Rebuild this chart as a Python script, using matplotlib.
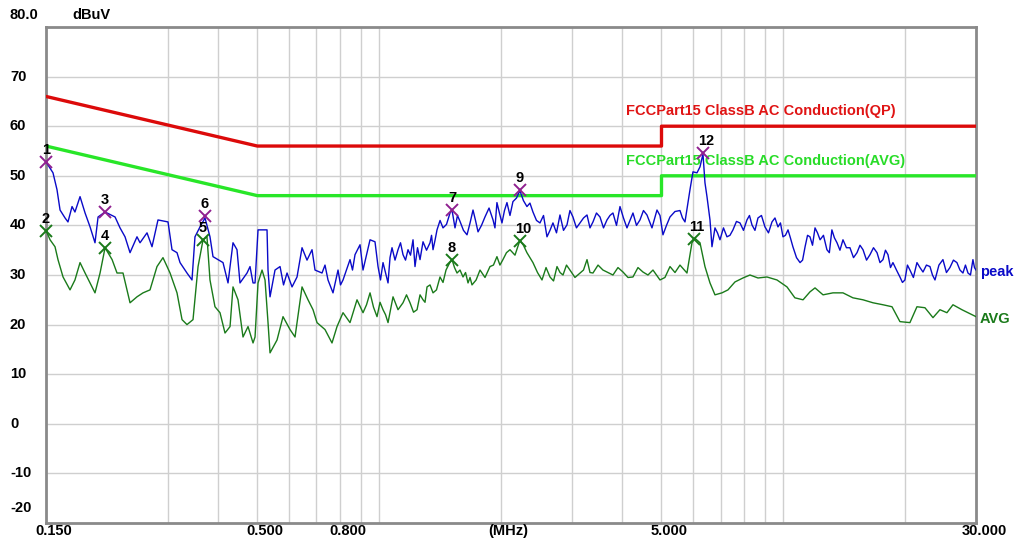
import matplotlib
matplotlib.use("Agg")
import matplotlib.pyplot as plt
import matplotlib.transforms as mtransforms

plt.rcParams["font.family"] = ["Liberation Sans", "DejaVu Sans"]
plt.rcParams["font.weight"] = "bold"

# peak trace (MHz, dBuV)
peak_freq = [
    0.150, 0.1561, 0.1597, 0.1625, 0.1672, 0.1700, 0.1740, 0.1769, 0.1821, 0.1874,
    0.1928, 0.1983, 0.2018, 0.2100, 0.2223, 0.2287, 0.2353, 0.2421, 0.2519, 0.2563,
    0.2667, 0.2744, 0.2839, 0.3006, 0.3075, 0.3164, 0.3219, 0.3349, 0.3446, 0.3505,
    0.3607, 0.3711, 0.3818, 0.3884, 0.3996, 0.4112, 0.4231, 0.4353, 0.4453, 0.4530,
    0.4715, 0.4796, 0.4879, 0.4935, 0.5020, 0.5284, 0.5314, 0.5375, 0.5530, 0.5691,
    0.5805, 0.5922, 0.6093, 0.6269, 0.6450, 0.6636, 0.6828, 0.6945, 0.7228, 0.7352,
    0.7479, 0.7695, 0.7918, 0.8032, 0.8147, 0.8478, 0.8599, 0.8723, 0.8976, 0.9130,
    0.9314, 0.9502, 0.9775, 0.9945, 1.0087, 1.0232, 1.0528, 1.0648, 1.0770, 1.0956,
    1.1145, 1.1304, 1.1466, 1.1631, 1.1798, 1.1967, 1.2139, 1.2277, 1.2454, 1.2633,
    1.2851, 1.311, 1.3374, 1.349, 1.3604, 1.376, 1.3917, 1.416, 1.4401, 1.469,
    1.4987, 1.5159, 1.5419, 1.564, 1.5866, 1.618, 1.6511, 1.680, 1.7085, 1.733,
    1.758, 1.793, 1.829, 1.872, 1.915, 1.936, 1.958, 1.986, 2.015, 2.044,
    2.073, 2.109, 2.145, 2.188, 2.232, 2.277, 2.323, 2.363, 2.404, 2.453,
    2.502, 2.553, 2.604, 2.649, 2.694, 2.749, 2.804, 2.861, 2.918, 2.968,
    3.019, 3.080, 3.143, 3.207, 3.271, 3.327, 3.384, 3.452, 3.522, 3.593,
    3.665, 3.728, 3.792, 3.869, 3.947, 4.026, 4.107, 4.178, 4.250, 4.336,
    4.423, 4.512, 4.603, 4.736, 4.873, 4.957, 5.042, 5.144, 5.248, 5.399,
    5.555, 5.635, 5.716, 5.881, 5.982, 6.120, 6.226, 6.333, 6.405, 6.479,
    6.591, 6.666, 6.781, 6.878, 6.977, 7.117, 7.260, 7.385, 7.513, 7.664,
    7.819, 7.976, 8.136, 8.253, 8.372, 8.516, 8.663, 8.837, 9.015, 9.197,
    9.383, 9.544, 9.708, 9.847, 9.989, 10.13, 10.28, 10.42, 10.57, 10.79,
    11.01, 11.17, 11.33, 11.49, 11.65, 11.82, 11.99, 12.16, 12.34, 12.58,
    12.83, 13.01, 13.20, 13.39, 13.59, 13.82, 14.06, 14.34, 14.63, 14.93,
    15.23, 15.49, 15.76, 16.08, 16.40, 16.73, 17.07, 17.36, 17.66, 17.91,
    18.17, 18.43, 18.69, 19.07, 19.45, 19.73, 20.01, 20.30, 20.59, 21.00,
    21.43, 21.80, 22.18, 22.62, 23.08, 23.41, 23.75, 24.29, 24.85, 25.35,
    25.86, 26.38, 26.91, 27.38, 27.85, 28.25, 28.66, 29.07, 29.48, 29.74,
    30.0,
]
peak_dbuv = [
    52.8, 50.6, 47.2, 43.1, 41.5, 40.7, 43.8, 42.7, 45.8, 42.5,
    39.7, 36.5, 41.7, 42.7, 41.7, 39.5, 37.7, 34.5, 37.7, 36.5,
    38.5, 35.7, 41.1, 40.7, 35.1, 34.5, 32.5, 30.4, 29.0, 37.7,
    39.7, 41.5, 37.7, 33.7, 33.1, 32.5, 28.4, 36.5, 35.1, 28.4,
    30.4, 31.7, 28.4, 28.4, 39.1, 39.1, 31.0, 25.6, 31.0, 31.7,
    28.0, 30.4, 27.6, 29.6, 35.5, 33.0, 35.1, 31.0, 30.4, 32.0,
    29.0, 26.4, 31.0, 28.0, 29.0, 33.1, 31.0, 34.1, 36.1, 31.0,
    34.0, 37.1, 36.7, 31.7, 29.0, 32.5, 28.4, 33.5, 35.5, 33.0,
    35.1, 36.5, 34.1, 33.0, 35.1, 34.0, 37.1, 31.7, 35.5, 33.1,
    36.7, 35.0, 36.5, 38.0, 35.1, 37.0, 39.1, 41.0, 39.5, 40.2,
    42.5, 43.1, 39.5, 42.0, 40.8, 39.0, 38.1, 40.5, 43.1, 41.0,
    38.7, 40.0, 41.7, 43.5, 41.1, 39.5, 44.6, 42.5, 40.5, 43.0,
    44.6, 42.0, 44.8, 45.5, 47.0, 45.0, 43.8, 44.5, 42.7, 41.0,
    40.5, 42.0, 37.7, 39.0, 40.5, 38.5, 42.1, 39.0, 40.1, 43.0,
    41.7, 39.5, 40.5, 41.5, 42.1, 39.5, 40.7, 42.5, 41.7, 39.5,
    41.1, 42.0, 42.5, 40.0, 43.8, 41.5, 39.5, 41.0, 42.5, 40.0,
    41.1, 43.0, 42.1, 39.5, 43.1, 42.0, 38.1, 40.0, 41.7, 42.8,
    43.0, 41.5, 40.7, 47.2, 50.8, 50.6, 51.8, 54.4, 48.6, 45.8,
    41.1, 35.7, 39.5, 38.5, 37.1, 39.5, 37.7, 38.0, 39.1, 40.8,
    40.5, 39.0, 41.1, 42.0, 40.1, 39.0, 41.5, 42.0, 39.7, 38.5,
    40.7, 41.5, 39.7, 40.5, 37.7, 38.0, 39.1, 37.5, 35.7, 33.5,
    32.5, 33.0, 35.7, 38.0, 37.7, 36.0, 39.5, 38.5, 37.1, 38.0,
    35.1, 34.5, 39.1, 37.5, 36.5, 35.0, 37.1, 35.5, 35.5, 33.5,
    34.5, 36.0, 35.1, 33.0, 34.1, 35.5, 34.5, 32.5, 33.1, 35.0,
    34.1, 31.5, 32.5, 31.0, 29.6, 28.5, 29.0, 32.0, 31.0, 29.5,
    32.5, 31.5, 30.6, 32.0, 31.7, 30.0, 29.0, 32.0, 33.1, 30.5,
    31.5, 33.0, 32.5, 31.0, 30.4, 32.0, 30.4, 30.0, 33.1, 31.5,
    31.0,
]

# average trace (MHz, dBuV)
avg_freq = [
    0.150, 0.1535, 0.1579, 0.1606, 0.1653, 0.1720, 0.1769, 0.1821, 0.1874, 0.1928,
    0.1983, 0.2041, 0.2100, 0.2186, 0.2248, 0.2326, 0.2421, 0.2519, 0.2607, 0.2713,
    0.2823, 0.2921, 0.3041, 0.3164, 0.3256, 0.3349, 0.3466, 0.3567, 0.3670, 0.3753,
    0.3818, 0.3928, 0.4042, 0.4159, 0.4280, 0.4353, 0.4479, 0.4608, 0.4742, 0.4879,
    0.4935, 0.5020, 0.5136, 0.5224, 0.5314, 0.5375, 0.5594, 0.5788, 0.6024, 0.6198,
    0.6450, 0.6674, 0.6867, 0.7025, 0.7352, 0.7651, 0.7873, 0.8147, 0.8478, 0.8823,
    0.9130, 0.9314, 0.9502, 0.9693, 0.9888, 1.0059, 1.0232, 1.0379, 1.0528, 1.0679,
    1.0832, 1.1145, 1.1466, 1.1697, 1.1933, 1.2174, 1.2419, 1.2633, 1.2851, 1.2998,
    1.3147, 1.3374, 1.3604, 1.3875, 1.4157, 1.4401, 1.4649, 1.4987, 1.5159, 1.5376,
    1.5597, 1.5866, 1.6139, 1.6373, 1.6606, 1.6797, 1.6988, 1.7390, 1.778, 1.8294,
    1.882, 1.9195, 1.958, 1.9918, 2.026, 2.0672, 2.109, 2.1700, 2.232, 2.277,
    2.323, 2.3630, 2.404, 2.4670, 2.531, 2.5900, 2.649, 2.7030, 2.757, 2.8050,
    2.853, 2.9100, 2.968, 3.0540, 3.143, 3.2060, 3.271, 3.3270, 3.384, 3.4830,
    3.582, 3.6850, 3.792, 3.9020, 4.015, 4.1310, 4.250, 4.3730, 4.499, 4.6290,
    4.763, 4.8590, 4.957, 5.0990, 5.248, 5.4000, 5.555, 5.781, 5.948, 6.050,
    6.226, 6.405, 6.591, 6.781, 7.056, 7.302, 7.599, 7.953, 8.277, 8.663,
    9.119, 9.653, 10.22, 10.69, 11.20, 11.65, 11.99, 12.55, 13.28, 14.06,
    14.88, 15.76, 16.68, 17.66, 18.59, 19.45, 20.59, 21.43, 22.43, 23.48,
    24.43, 25.42, 26.31, 27.69, 28.66, 30.0,
]
avg_dbuv = [
    39.0, 37.1, 35.7, 33.1, 29.6, 27.0, 29.0, 32.5, 30.4, 28.4,
    26.4, 30.4, 35.5, 33.1, 30.4, 30.4, 24.4, 25.6, 26.4, 27.0,
    31.7, 33.5, 30.4, 26.4, 21.0, 20.0, 21.0, 31.7, 37.1, 37.7,
    29.0, 23.6, 22.4, 18.3, 19.6, 27.6, 25.0, 17.5, 19.6, 16.3,
    17.5, 28.4, 31.0, 29.0, 20.4, 14.3, 16.9, 21.6, 19.0, 17.5,
    27.6, 25.0, 23.0, 20.4, 19.0, 16.3, 19.6, 22.4, 20.4, 25.0,
    22.4, 24.0, 26.4, 23.5, 21.6, 24.5, 23.0, 22.0, 20.4, 23.0,
    25.6, 23.0, 24.4, 26.0, 24.4, 22.5, 23.0, 26.0, 25.0, 24.5,
    27.6, 28.0, 26.4, 27.0, 29.6, 28.5, 31.0, 32.6, 33.1, 31.5,
    30.4, 31.0, 29.6, 30.5, 28.4, 29.5, 28.0, 29.0, 31.0, 29.5,
    31.7, 32.0, 33.7, 32.0, 33.1, 34.5, 35.1, 34.0, 37.0, 36.0,
    34.5, 33.5, 32.5, 30.5, 29.0, 31.5, 29.6, 28.8, 31.7, 30.5,
    30.0, 32.0, 31.0, 29.5, 30.4, 31.0, 33.1, 30.5, 30.4, 32.0,
    31.0, 30.5, 30.0, 31.5, 30.6, 29.5, 29.6, 31.5, 30.6, 30.0,
    31.0, 30.0, 29.0, 29.5, 31.7, 30.5, 32.0, 30.4, 36.5, 37.4,
    36.5, 31.7, 28.4, 26.0, 26.4, 27.0, 28.6, 29.4, 30.0, 29.4,
    29.6, 29.0, 27.6, 25.4, 25.0, 26.6, 27.4, 26.0, 26.4, 26.4,
    25.4, 25.0, 24.4, 24.0, 23.6, 20.6, 20.4, 23.6, 23.4, 21.4,
    23.0, 22.4, 24.0, 23.0, 22.4, 21.6,
]

# limit lines
qp_limit_freq = [0.15, 0.5, 5.0, 5.0, 30.0]
qp_limit_dbuv = [66, 56, 56, 60, 60]
avg_limit_freq = [0.15, 0.5, 5.0, 5.0, 30.0]
avg_limit_dbuv = [56, 46, 46, 50, 50]

# marker readings
peak_mark_no = ["1", "3", "6", "7", "9", "12"]
peak_mark_freq = [0.150, 0.210, 0.371, 1.516, 2.232, 6.333]
peak_mark_dbuv = [52.8, 42.7, 41.9, 43.1, 47.2, 54.6]
avg_mark_no = ["2", "4", "5", "8", "10", "11"]
avg_mark_freq = [0.150, 0.210, 0.367, 1.516, 2.232, 6.016]
avg_mark_dbuv = [38.9, 35.5, 37.1, 33.1, 36.9, 37.3]

grid_freq = [0.3, 0.4, 0.5, 0.6, 0.7, 0.8, 0.9, 1, 2, 3, 4, 5, 6, 7, 8, 9, 10, 20]
grid_level = [-10, 0, 10, 20, 30, 40, 50, 60, 70]
x_labels = ["0.150", "0.500", "0.800", "(MHz)", "5.000", "30.000"]
x_label_freq = [0.15, 0.5, 0.8, 2.0, 5.0, 30.0]
y_labels = ["80.0", "70", "60", "50", "40", "30", "20", "10", "0", "-10", "-20"]
y_label_pos = [82.4, 70, 60, 50, 40, 30, 20, 10, 0, -10, -17]

W, H = 1016, 543
fig = plt.figure(figsize=(W / 100, H / 100), dpi=100)
ax = fig.add_axes([46 / W, 1 - 523 / H, 930 / W, 496 / H])
ax.set_xscale("log")
ax.set_xlim(0.15, 30)
ax.set_ylim(-20, 80)
ax.set_xticks([])
ax.set_yticks([])
ax.minorticks_off()
for s in ax.spines.values():
    s.set_color("#8a8a8a")
    s.set_linewidth(2)

for f in grid_freq:
    ax.axvline(f, color="#cfcfcf", lw=1, zorder=0)
for lv in grid_level:
    ax.axhline(lv, color="#cfcfcf", lw=1, zorder=0)

ax.plot(qp_limit_freq, qp_limit_dbuv, color="#dc0a0a", lw=2.4, zorder=3)
ax.plot(avg_limit_freq, avg_limit_dbuv, color="#28e628", lw=2.4, zorder=3)
ax.plot(avg_freq, avg_dbuv, color="#1a7a1a", lw=1, zorder=4)
ax.plot(peak_freq, peak_dbuv, color="#0a0ac8", lw=1, zorder=5)

ax.plot(peak_mark_freq, peak_mark_dbuv, ls="none", marker="x", ms=9, mew=1.4,
        color="#902090", zorder=6, clip_on=False)
ax.plot(avg_mark_freq, avg_mark_dbuv, ls="none", marker="x", ms=9, mew=1.4,
        color="#1a7a1a", zorder=6, clip_on=False)
for no, f, v in list(zip(peak_mark_no, peak_mark_freq, peak_mark_dbuv)) + \
        list(zip(avg_mark_no, avg_mark_freq, avg_mark_dbuv)):
    dx = 3 if len(no) > 1 else 0
    ax.annotate(no, (f, v), xytext=(dx, 5), textcoords="offset pixels",
                ha="center", va="bottom", fontsize=10.5, color="black",
                fontweight="bold", zorder=7, annotation_clip=False)

ax.text(4.08, 61.6, "FCCPart15 ClassB AC Conduction(QP)", color="#e01414",
        fontsize=10.5, fontweight="bold", ha="left", va="bottom")
ax.text(4.08, 51.6, "FCCPart15 ClassB AC Conduction(AVG)", color="#28dc28",
        fontsize=10.5, fontweight="bold", ha="left", va="bottom")

side_tr = mtransforms.blended_transform_factory(fig.transFigure, ax.transData)
ax.text(980 / W, 30.6, "peak", transform=side_tr, color="#0a0ac8",
        fontsize=10.5, fontweight="bold", ha="left", va="center")
ax.text(980 / W, 21.2, "AVG", transform=side_tr, color="#1a7a1a",
        fontsize=10.5, fontweight="bold", ha="left", va="center")

for lab, pos in zip(y_labels, y_label_pos):
    ax.text(10 / W, pos, lab, transform=side_tr, fontsize=10.5,
            fontweight="bold", ha="left", va="center", color="black")
ax.text(72 / W, 82.4, "dBuV", transform=side_tr, fontsize=10.5,
        fontweight="bold", ha="left", va="center", color="black")

shift = mtransforms.ScaledTranslation(8 / 100, -8 / 100, fig.dpi_scale_trans)
for lab, f in zip(x_labels, x_label_freq):
    ax.text(f, 0, lab, transform=ax.get_xaxis_transform() + shift,
            fontsize=10.5, fontweight="bold", ha="center", va="center")

fig.savefig("out.png", dpi=100, facecolor="white")
